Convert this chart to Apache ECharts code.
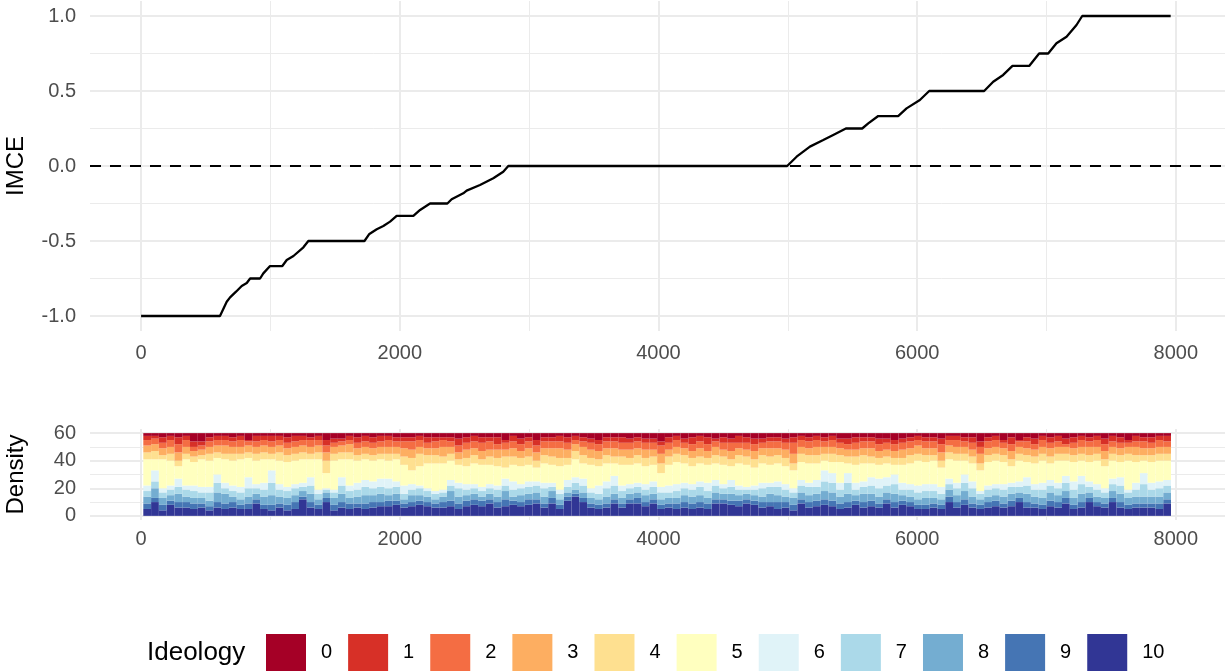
<!DOCTYPE html>
<html>
<head>
<meta charset="utf-8">
<script src="https://cdn.jsdelivr.net/npm/echarts@6/dist/echarts.min.js"></script>
<style>
  html, body { margin: 0; padding: 0; background: #fff; }
  #chart { width: 1228px; height: 671px; }
</style>
</head>
<body>
<div id="chart"></div>
<script>
// top panel: IMCE curve, breakpoints
var imceX = [0, 610, 662, 688, 734, 778, 817, 843, 920, 945, 997, 1092, 1126, 1178, 1255, 1293,
  1727, 1765, 1822, 1873, 1925, 1976, 2105, 2157, 2234, 2368, 2401, 2491, 2517, 2620, 2723, 2800, 2839,
  4995, 5068, 5171, 5274, 5351, 5449, 5575, 5622, 5699, 5853, 5918, 6021, 6093,
  6518, 6588, 6665, 6737, 6866, 6943, 7013, 7077, 7155, 7232, 7276, 7960]
var imceY = [-1, -1, -0.905, -0.876, -0.838, -0.80, -0.78, -0.75, -0.75, -0.716, -0.667, -0.667, -0.627, -0.6, -0.542, -0.5,
  -0.5, -0.453, -0.422, -0.4, -0.371, -0.333, -0.333, -0.293, -0.25, -0.25, -0.222, -0.182, -0.164, -0.127, -0.082, -0.038, 0,
  0, 0.062, 0.129, 0.173, 0.207, 0.25, 0.25, 0.284, 0.333, 0.333, 0.384, 0.44, 0.5,
  0.5, 0.562, 0.607, 0.667, 0.667, 0.75, 0.75, 0.818, 0.862, 0.94, 1, 1]

// bottom panel: upper edge of each ideology band in every bin (stack total is 60)
var top10 = [5,10,4,8,6,6,5,6,4,6,5,6,5,5,9,5,4,6,4,5,12,6,5,10,4,6,5,6,5,6,7,7,8,
  6,7,8,7,6,6,7,5,7,8,7,9,6,7,8,7,8,9,6,9,5,11,14,10,6,5,6,9,6,9,9,7,9,
  5,6,5,6,5,6,5,9,9,8,7,9,8,6,7,5,6,4,9,6,7,8,7,5,6,8,6,7,6,9,6,8,7,
  5,5,6,5,10,6,8,6,5,6,7,6,7,10,6,6,5,7,6,9,5,6,10,7,6,10,6,5,6,6,6,5,9]
var top9 = [9,13,8,11,10,10,9,9,7,10,9,10,8,9,12,8,8,9,8,10,14,10,8,13,8,10,9,9,9,10,10,11,11,
  9,10,11,10,9,10,11,9,11,12,11,12,10,12,11,10,12,12,9,13,8,14,16,13,9,8,9,12,9,12,13,10,12,
  8,9,9,10,9,10,9,12,12,11,11,12,11,10,10,10,10,8,12,10,11,12,11,9,10,11,10,11,9,12,10,11,10,
  8,8,9,8,14,10,12,9,8,10,11,9,11,13,10,9,8,11,10,13,8,10,13,10,9,13,10,8,9,9,9,9,12]
var top8 = [14,20,13,15,16,14,13,13,11,17,16,14,12,14,16,14,15,14,13,15,18,16,12,17,13,16,13,14,15,15,16,15,16,
  12,15,15,14,12,14,18,14,15,16,14,16,14,18,14,15,16,17,14,18,12,17,19,17,13,12,14,16,13,16,17,15,16,
  12,13,13,15,14,15,13,17,16,16,15,16,15,14,16,15,14,13,17,15,16,18,17,14,16,15,16,16,14,17,16,15,14,
  12,13,13,12,19,15,18,14,12,14,15,14,16,17,16,14,13,17,15,18,13,16,17,14,13,18,16,13,14,14,14,14,17]
var top7 = [18,25,17,19,21,19,18,17,17,24,20,18,17,20,20,19,24,19,18,20,21,22,16,19,17,22,18,19,21,20,21,20,21,
  16,19,20,18,16,17,22,20,19,20,18,20,19,22,19,20,21,22,20,21,16,21,24,22,17,16,20,22,18,20,21,19,21,
  17,17,18,20,19,21,18,22,20,21,19,19,19,20,21,21,19,17,22,21,21,25,24,19,24,19,21,22,20,22,23,19,19,
  17,18,18,16,23,20,24,20,16,19,20,19,21,21,22,19,19,22,20,24,19,23,21,19,17,23,22,17,19,23,19,20,22]
var top6 = [22,33,20,22,27,22,22,21,21,30,24,22,21,28,23,24,33,23,21,23,24,28,19,20,19,28,22,24,26,25,27,27,25,
  22,23,22,20,18,19,26,24,23,23,21,23,22,27,25,23,25,25,24,24,19,26,28,27,20,22,25,29,22,23,24,23,25,
  21,22,23,24,23,25,24,26,23,26,22,21,22,24,24,25,23,20,26,24,26,33,31,24,31,24,25,28,27,28,30,24,23,
  22,23,23,21,27,24,30,25,18,22,23,23,24,25,28,23,24,26,24,29,25,29,25,23,20,27,28,19,24,31,24,25,26]
var top5 = [41,41,41,40,36,41,39,41,40,42,41,40,41,42,40,41,41,40,39,40,41,41,41,31,40,41,41,40,41,40,41,40,41,
  37,33,36,38,38,38,40,37,36,38,37,37,36,35,37,36,37,35,38,37,36,37,41,38,37,36,38,38,37,37,38,36,37,
  31,37,39,38,36,38,37,38,37,36,38,37,35,38,37,38,36,33,39,38,38,40,39,39,38,37,38,38,37,38,37,37,38,
  40,39,40,35,41,40,40,38,33,39,40,39,36,40,39,38,40,38,40,40,39,40,39,40,36,40,39,40,39,40,39,40,40]
var top4 = [46,47,44,45,40,45,43,44,45,46,45,45,45,46,45,46,45,46,44,45,46,45,46,40,45,46,46,44,45,44,45,45,45,
  43,42,45,44,44,43,45,41,42,44,41,43,42,43,43,42,43,40,44,43,42,42,47,44,42,41,44,43,43,42,44,42,43,
  38,43,45,44,42,43,42,44,43,41,44,43,41,44,43,44,42,38,45,44,44,45,45,44,43,43,44,43,42,43,42,42,44,
  45,44,44,40,46,45,45,43,38,44,45,44,41,45,44,43,45,43,45,45,44,45,44,45,41,45,44,45,44,44,44,45,45]
var top3 = [51,52,49,50,46,50,47,48,50,51,51,50,50,51,50,51,50,51,49,50,51,50,51,46,50,51,52,49,50,49,50,50,50,
  49,48,50,49,49,50,50,46,48,49,47,48,48,48,49,47,49,46,49,49,49,48,52,50,48,47,49,49,48,48,49,48,48,
  45,48,50,49,47,49,47,50,48,47,49,48,47,49,49,49,48,45,50,49,50,50,50,49,48,48,49,49,47,48,47,48,49,
  51,49,49,46,51,50,50,48,45,49,50,49,47,50,49,48,50,49,50,50,49,50,50,50,47,50,49,50,50,49,49,50,50]
var top2 = [55,56,53,55,52,55,50,51,54,55,55,54,55,54,54,55,54,55,53,54,55,55,55,51,53,54,55,53,54,53,54,55,54,
  54,54,55,53,54,55,54,51,53,54,53,54,52,53,54,52,54,51,54,54,54,53,55,54,53,52,54,54,53,53,54,53,53,
  51,53,55,53,52,54,52,54,53,53,53,53,52,53,54,54,53,53,55,54,55,54,55,53,52,53,54,54,52,53,52,53,54,
  55,54,54,52,55,55,54,53,50,54,55,53,52,54,54,52,55,53,54,52,53,55,54,55,52,54,53,53,54,54,53,55,54]
var top1 = [58,58,57,58,57,58,54,54,57,58,58,57,58,55,58,58,58,58,57,58,58,57,58,55,56,56,58,57,58,57,58,58,57,
  57,57,58,57,57,57,57,56,57,58,57,57,57,55,58,56,57,55,57,57,58,57,58,57,56,55,57,57,57,56,57,56,56,
  54,57,58,56,57,58,57,56,57,56,58,57,56,56,57,57,56,57,58,57,58,57,58,56,56,57,57,57,56,56,55,56,57,
  58,57,57,56,58,58,57,57,54,57,58,55,57,55,57,56,58,57,58,56,57,58,57,58,56,58,57,55,58,57,57,58,58]
var stackTotal = 60

var ideology = ['0', '1', '2', '3', '4', '5', '6', '7', '8', '9', '10']
var ideologyColors = ['#a50026', '#d73027', '#f46d43', '#fdae61', '#fee090', '#ffffbf',
  '#e0f3f8', '#abd9e9', '#74add1', '#4575b4', '#313695']

var xMajor = [0, 2000, 4000, 6000, 8000]
var xMinor = [1000, 3000, 5000, 7000]
var imceMajor = [-1, -0.5, 0, 0.5, 1]
var imceMinor = [-0.75, -0.25, 0.25, 0.75]
var densMajor = [0, 20, 40, 60]
var densMinor = [10, 30, 50]

var upper = [null, top1, top2, top3, top4, top5, top6, top7, top8, top9, top10]
var bins = top10.map(function (v, i) { return i })

function bandHeights(k) {
  return bins.map(function (i) {
    var hi = k === 0 ? stackTotal : upper[k][i]
    var lo = k === 10 ? 0 : upper[k + 1][i]
    return hi - lo
  })
}

var tickFont = { color: '#4d4d4d', fontSize: 20, fontFamily: 'Liberation Sans' }
var majorLine = { show: true, lineStyle: { color: '#ebebeb', width: 2 } }
var minorLine = { show: true, lineStyle: { color: '#ebebeb', width: 1 } }
var plain = function (v) { return String(v) }

function valueAxis(grid, min, max, ticks, line, labels, extra) {
  var ax = {
    type: 'value', gridIndex: grid, min: min, max: max,
    axisLine: { show: false },
    axisTick: { show: false, customValues: ticks },
    splitLine: line,
    axisLabel: labels ? Object.assign({ customValues: ticks, formatter: plain }, tickFont, labels) : { show: false }
  }
  return Object.assign(ax, extra || {})
}

var barSeries = []
for (var k = 10; k >= 0; k--) {
  barSeries.push({
    name: ideology[k],
    type: 'bar',
    stack: 'density',
    xAxisIndex: 4,
    yAxisIndex: 4,
    barWidth: '100%',
    barCategoryGap: 0,
    itemStyle: { color: ideologyColors[k] },
    silent: true,
    data: bandHeights(k)
  })
}

var chart = echarts.init(document.getElementById('chart'))
chart.setOption({
  animation: false,
  backgroundColor: '#fff',
  title: {
    text: 'Ideology', left: 147, top: 640, padding: 0,
    textStyle: { fontSize: 26, fontWeight: 'normal', color: '#000', fontFamily: 'Liberation Sans' }
  },
  legend: {
    data: ideology,
    left: 266, top: 634, padding: 0,
    itemWidth: 40, itemHeight: 37, itemGap: 16,
    icon: 'rect',
    selectedMode: false,
    textStyle: { fontSize: 20, color: '#000', fontFamily: 'Liberation Sans', width: 18, padding: [0, 0, 0, 10] }
  },
  grid: [
    { left: 90, right: 3, top: 1, height: 330, outerBoundsMode: 'none' },
    { left: 90, right: 3, top: 429, height: 91, outerBoundsMode: 'none' },
    { left: 143.3, right: 57, top: 429, height: 91, outerBoundsMode: 'none' }
  ],
  xAxis: [
    valueAxis(0, -395, 8380, xMajor, majorLine, { margin: 12 }),
    valueAxis(0, -395, 8380, xMinor, minorLine, null, { position: 'top' }),
    valueAxis(1, -395, 8380, xMajor, majorLine, { margin: 9 }),
    valueAxis(1, -395, 8380, xMinor, minorLine, null, { position: 'top' }),
    { type: 'category', gridIndex: 2, data: bins, show: false, boundaryGap: true }
  ],
  yAxis: [
    valueAxis(0, -1.1, 1.1, imceMajor, majorLine,
      { margin: 14, formatter: function (v) { return v.toFixed(1) } },
      { name: 'IMCE', nameLocation: 'middle', nameGap: 62, nameRotate: 90,
        nameTextStyle: { fontSize: 24, color: '#000', fontFamily: 'Liberation Sans' } }),
    valueAxis(0, -1.1, 1.1, imceMinor, minorLine, null, { position: 'right' }),
    valueAxis(1, -3, 63, densMajor, majorLine, { margin: 14 },
      { name: 'Density', nameLocation: 'middle', nameGap: 62, nameRotate: 90,
        nameTextStyle: { fontSize: 24, color: '#000', fontFamily: 'Liberation Sans' } }),
    valueAxis(1, -3, 63, densMinor, minorLine, null, { position: 'right' }),
    { type: 'value', gridIndex: 2, min: -3, max: 63, show: false }
  ],
  series: [{
    type: 'line',
    xAxisIndex: 0,
    yAxisIndex: 0,
    showSymbol: false,
    silent: true,
    lineStyle: { color: '#000', width: 2.3 },
    data: imceX.map(function (x, i) { return [x, imceY[i]] }),
    markLine: {
      silent: true,
      symbol: 'none',
      label: { show: false },
      lineStyle: { color: '#000', width: 2, type: [11, 9] },
      data: [{ yAxis: 0 }]
    }
  }].concat(barSeries)
})
</script>
</body>
</html>
